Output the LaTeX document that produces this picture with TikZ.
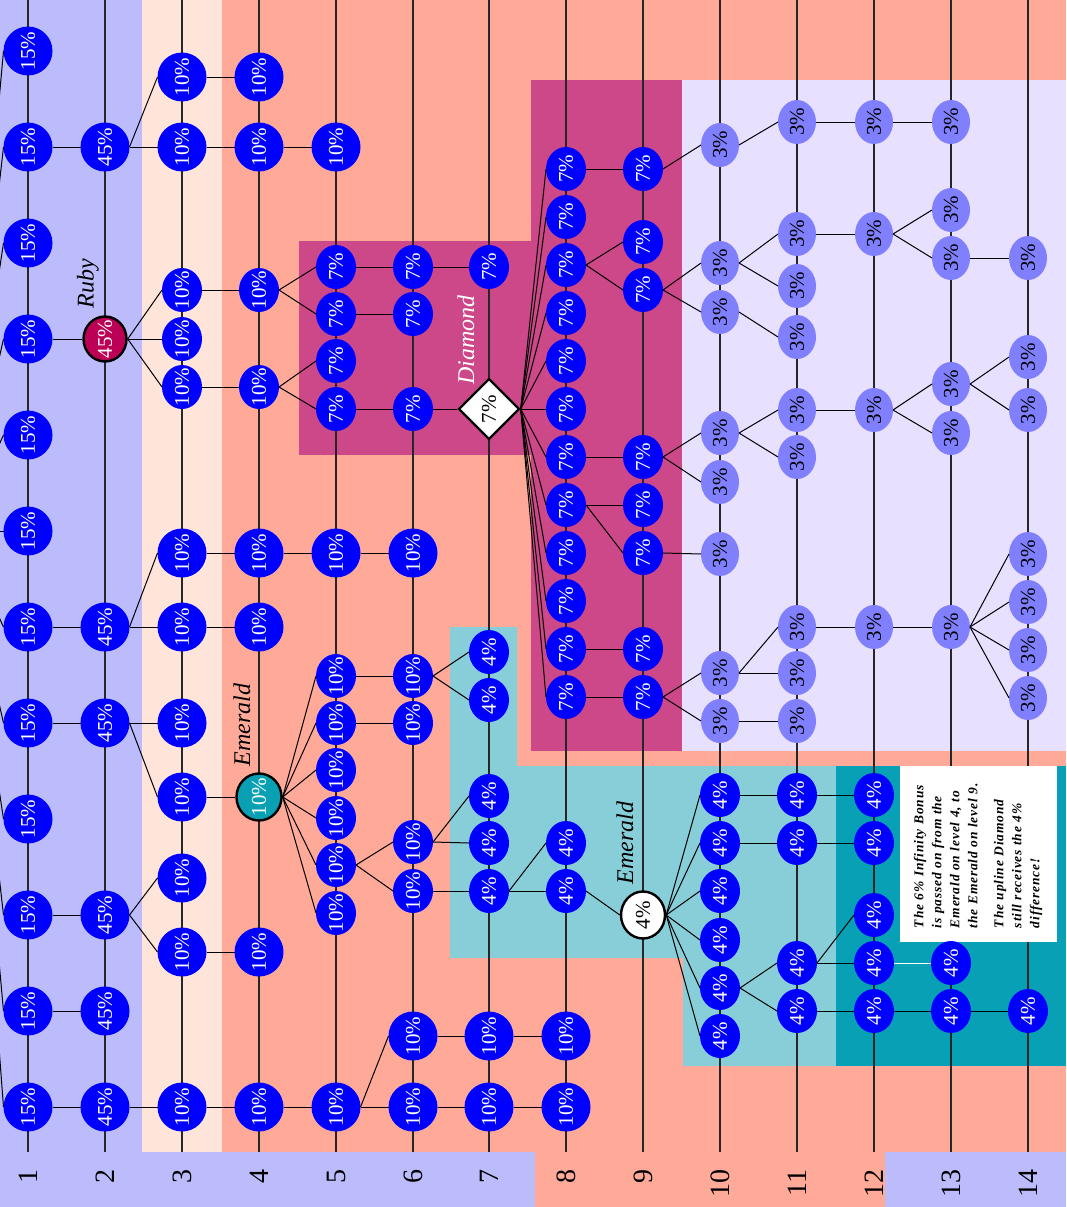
\documentclass[tikz,border=0pt]{standalone}
\usepackage{graphicx}
\usepackage{fontspec}
\setmainfont{Liberation Serif}
\usetikzlibrary{shapes.geometric}
\definecolor{bgblue}{HTML}{BCBCFC}
\definecolor{bgpink}{HTML}{FFE4DA}
\definecolor{bgsalmon}{HTML}{FFAA99}
\definecolor{bgmag}{HTML}{CC4888}
\definecolor{bglav}{HTML}{E8E0FF}
\definecolor{bgcyanl}{HTML}{88CED8}
\definecolor{bgcyand}{HTML}{08A0B4}
\definecolor{nblue}{HTML}{0000FF}
\definecolor{nlight}{HTML}{8080FF}
\definecolor{rubyc}{HTML}{BB0055}
\definecolor{emc}{HTML}{0AA0B4}
\newcommand\nfont{\fontsize{21}{23}\selectfont}
\newcommand\pcnt[1]{\rotatebox{90}{\makebox[0pt]{#1\%}}}
\tikzset{
  nb/.style={ellipse, fill=nblue, text=white, inner sep=0pt, outer sep=0pt, font=\nfont},
  big/.style={nb, minimum width=49pt, minimum height=49pt},
  sml/.style={nb, minimum width=40pt, minimum height=44pt},
  thr/.style={nb, fill=nlight, text=black, minimum width=38pt, minimum height=44pt},
  special/.style={ellipse, draw=black, line width=2.4pt, inner sep=0pt, font=\nfont},
  rubyn/.style={special, fill=rubyc, text=white, minimum width=43pt, minimum height=45pt},
  emn/.style={special, fill=emc, text=white, minimum width=45pt, minimum height=47pt},
  emw/.style={special, fill=white, text=black, minimum width=44pt, minimum height=47pt},
  diam/.style={diamond, draw=black, line width=2.4pt, fill=white, text=black, inner sep=0pt,
    minimum width=61pt, minimum height=61pt, font=\nfont},
  edge/.style={draw=black, line width=1pt},
  vline/.style={draw=black!85, line width=1.2pt},
  lbl/.style={rotate=90, inner sep=0pt, font=\itshape\fontsize{24}{24}\selectfont},
  num/.style={rotate=90, inner sep=0pt, anchor=east, font=\fontsize{28}{28}\selectfont}
}
\begin{document}
\begin{tikzpicture}[x=1pt,y=-1pt]
\useasboundingbox (0,0) rectangle (1066,1207);
\clip (0,0) rectangle (1066,1207);
% backgrounds
\fill[bgblue] (0,0) rectangle (1066,1207);
\fill[bgpink] (142,0) rectangle (222,1152);
\fill[bgsalmon] (222,0) rectangle (1066,1152);
\fill[bgsalmon] (535,1152) rectangle (885,1207);
\fill[bgmag] (531,80) rectangle (682,751);
\fill[bgmag] (299,241) rectangle (531,455);
\fill[bglav] (682,80) rectangle (1066,751);
\fill[bgcyanl] (450,627) -- (517,627) -- (517,766) -- (836,766) -- (836,1066)
  -- (683,1066) -- (683,958) -- (450,958) -- cycle;
\fill[bgcyand] (836,766) rectangle (1066,1066);
% vertical lines
\foreach \x in {28,105,182,259,336,413,489,566,643,720,797,874,951,1028}
  \draw[vline] (\x,0) -- (\x,1152);
% note box
\fill[white] (900,766) rectangle (1057,942);
\node[rotate=90, inner sep=0pt, text width=150pt, align=left,
  font=\bfseries\itshape\fontsize{13.5}{18}\selectfont\addfontfeatures{LetterSpace=6}] (note) at (978,853)
  {\makebox[150pt][s]{The 6\% Infinity Bonus}\\
   \makebox[150pt][s]{is passed on from the}\\
   \makebox[150pt][s]{Emerald on level 4, to}\\
   \makebox[150pt][s]{the Emerald on level 9.}\\[8pt]
   \makebox[150pt][s]{The upline Diamond}\\
   \makebox[150pt][s]{still receives the 4\%}\\
   difference!};
% column 1
\foreach \y in {51,147,243,339,435,531,627,723,819,915,1011,1107}
  \node[big] (c1r\y) at (28,\y) {\pcnt{15}};
% column 2
\node[rubyn] (c2r339) at (105,339) {\pcnt{45}};
\foreach \y in {147,627,723,915,1011,1107}
  \node[big] (c2r\y) at (105,\y) {\pcnt{45}};
% column 3
\foreach \y in {77,147,553,627,723,797,878,952,1107}
  \node[big] (c3r\y) at (182,\y) {\pcnt{10}};
\foreach \y in {290,339,387}
  \node[sml] (c3r\y) at (182,\y) {\pcnt{10}};
% column 4
\foreach \y in {77,147,553,627,952,1107}
  \node[big] (c4r\y) at (259,\y) {\pcnt{10}};
\foreach \y in {290,387}
  \node[sml] (c4r\y) at (259,\y) {\pcnt{10}};
\node[emn] (c4r797) at (259,797) {\pcnt{10}};
% column 5
\foreach \y in {147,553,1107}
  \node[big] (c5r\y) at (336,\y) {\pcnt{10}};
\foreach \y in {267,314,361,409}
  \node[sml] (c5r\y) at (336,\y) {\pcnt{7}};
\foreach \y in {676,723,770,818,865,913}
  \node[sml] (c5r\y) at (336,\y) {\pcnt{10}};
% column 6
\foreach \y in {267,314,409}
  \node[sml] (c6r\y) at (413,\y) {\pcnt{7}};
\foreach \y in {553,1036,1107}
  \node[big] (c6r\y) at (413,\y) {\pcnt{10}};
\foreach \y in {676,723,842,891}
  \node[sml] (c6r\y) at (413,\y) {\pcnt{10}};
% column 7
\node[sml] (c7r267) at (489,267) {\pcnt{7}};
\node[diam] (c7r409) at (489,409) {\pcnt{7}};
\foreach \y in {652,700,796,843,891}
  \node[sml] (c7r\y) at (489,\y) {\pcnt{4}};
\foreach \y in {1036,1107}
  \node[big] (c7r\y) at (489,\y) {\pcnt{10}};
% column 8
\foreach \y in {169,217,...,697}
  \node[sml] (c8r\y) at (566,\y) {\pcnt{7}};
\foreach \y in {843,891}
  \node[sml] (c8r\y) at (566,\y) {\pcnt{4}};
\foreach \y in {1036,1107}
  \node[big] (c8r\y) at (566,\y) {\pcnt{10}};
% column 9
\foreach \y in {169,242,290,457,505,553,649,697}
  \node[sml] (c9r\y) at (643,\y) {\pcnt{7}};
\node[emw] (c9r915) at (643,915) {\pcnt{4}};
% column 10
\foreach \y in {145,263,312,433,482,554,673,721}
  \node[thr] (c10r\y) at (720,\y) {\pcnt{3}};
\foreach \y in {795,843,891,940,988,1036}
  \node[sml] (c10r\y) at (720,\y) {\pcnt{4}};
% column 11
\foreach \y in {122,234,286,337,410,457,627,673,721}
  \node[thr] (c11r\y) at (797,\y) {\pcnt{3}};
\foreach \y in {795,843,963,1011}
  \node[sml] (c11r\y) at (797,\y) {\pcnt{4}};
% column 12
\foreach \y in {122,234,410,627}
  \node[thr] (c12r\y) at (874,\y) {\pcnt{3}};
\foreach \y in {795,843,915,963,1011}
  \node[sml] (c12r\y) at (874,\y) {\pcnt{4}};
% column 13
\foreach \y in {122,210,258,384,433,627}
  \node[thr] (c13r\y) at (951,\y) {\pcnt{3}};
\foreach \y in {963,1011}
  \node[sml] (c13r\y) at (951,\y) {\pcnt{4}};
% column 14
\foreach \y in {258,357,410,554,602,650,698}
  \node[thr] (c14r\y) at (1028,\y) {\pcnt{3}};
\node[sml] (c14r1011) at (1028,1011) {\pcnt{4}};
% off-picture parent
\coordinate (L0) at (-40,531);
\foreach \y in {51,147,243,339,435,531,627,723,819,915,1011,1107}
  \draw[edge] (L0) -- (c1r\y.west);
% edges
\foreach \a/\b in {
  c1r147/c2r147, c1r339/c2r339, c1r627/c2r627, c1r723/c2r723, c1r915/c2r915,
  c1r1011/c2r1011, c1r1107/c2r1107,
  c2r147/c3r77, c2r147/c3r147, c2r339/c3r290, c2r339/c3r339, c2r339/c3r387,
  c2r627/c3r553, c2r627/c3r627, c2r723/c3r723, c2r723/c3r797, c2r915/c3r878,
  c2r915/c3r952, c2r1107/c3r1107,
  c3r77/c4r77, c3r147/c4r147, c3r290/c4r290, c3r387/c4r387, c3r553/c4r553,
  c3r627/c4r627, c3r797/c4r797, c3r952/c4r952, c3r1107/c4r1107,
  c4r147/c5r147, c4r290/c5r267, c4r290/c5r314, c4r387/c5r361, c4r387/c5r409,
  c4r553/c5r553, c4r797/c5r676, c4r797/c5r723, c4r797/c5r770, c4r797/c5r818,
  c4r797/c5r865, c4r797/c5r913, c4r1107/c5r1107,
  c5r267/c6r267, c5r314/c6r314, c5r409/c6r409, c5r553/c6r553, c5r676/c6r676,
  c5r723/c6r723, c5r865/c6r842, c5r865/c6r891, c5r1107/c6r1036, c5r1107/c6r1107,
  c6r267/c7r267, c6r409/c7r409, c6r676/c7r652, c6r676/c7r700, c6r842/c7r796,
  c6r842/c7r843, c6r891/c7r891, c6r1036/c7r1036, c6r1107/c7r1107,
  c7r891/c8r843, c7r891/c8r891, c7r1036/c8r1036, c7r1107/c8r1107,
  c8r169/c9r169, c8r265/c9r242, c8r265/c9r290, c8r457/c9r457, c8r505/c9r505,
  c8r505/c9r553, c8r649/c9r649, c8r697/c9r697, c8r891/c9r915,
  c9r169/c10r145, c9r290/c10r263, c9r290/c10r312, c9r457/c10r433, c9r457/c10r482,
  c9r553/c10r554, c9r697/c10r673, c9r697/c10r721,
  c10r145/c11r122, c10r263/c11r234, c10r263/c11r286, c10r312/c11r337,
  c10r433/c11r410, c10r433/c11r457, c10r673/c11r627, c10r673/c11r673,
  c10r721/c11r721, c10r795/c11r795, c10r843/c11r843, c10r988/c11r963,
  c10r988/c11r1011,
  c11r122/c12r122, c11r234/c12r234, c11r410/c12r410, c11r627/c12r627,
  c11r795/c12r795, c11r843/c12r843, c11r963/c12r915, c11r963/c12r963,
  c11r1011/c12r1011,
  c12r122/c13r122, c12r234/c13r210, c12r234/c13r258, c12r410/c13r384,
  c12r410/c13r433, c12r627/c13r627, c12r1011/c13r1011,
  c13r258/c14r258, c13r384/c14r357, c13r384/c14r410, c13r627/c14r554,
  c13r627/c14r602, c13r627/c14r650, c13r627/c14r698, c13r1011/c14r1011}
  \draw[edge] (\a.east) -- (\b.west);
\foreach \y in {169,217,...,697}
  \draw[edge] (c7r409.east) -- (c8r\y.west);
\foreach \y in {795,843,891,940,988,1036}
  \draw[edge] (c9r915.east) -- (c10r\y.west);
\draw[edge, draw=white] (c12r963.east) -- (c13r963.west);
% labels
\node[lbl] (rubylbl) at (88,284) {Ruby};
\node[lbl] (emlbla) at (242,725) {Emerald};
\node[lbl, text=white] (diamlbl) at (466,340) {Diamond};
\node[lbl] (emlblb) at (625,843) {Emerald};
% level numbers
\foreach \x/\n in {28/1,105/2,182/3,259/4,336/5,413/6,489/7,566/8,643/9,720/10,797/11,874/12,951/13,1028/14}
  \node[num] (lev\n) at (\x,1169) {\n};
\end{tikzpicture}
\end{document}
